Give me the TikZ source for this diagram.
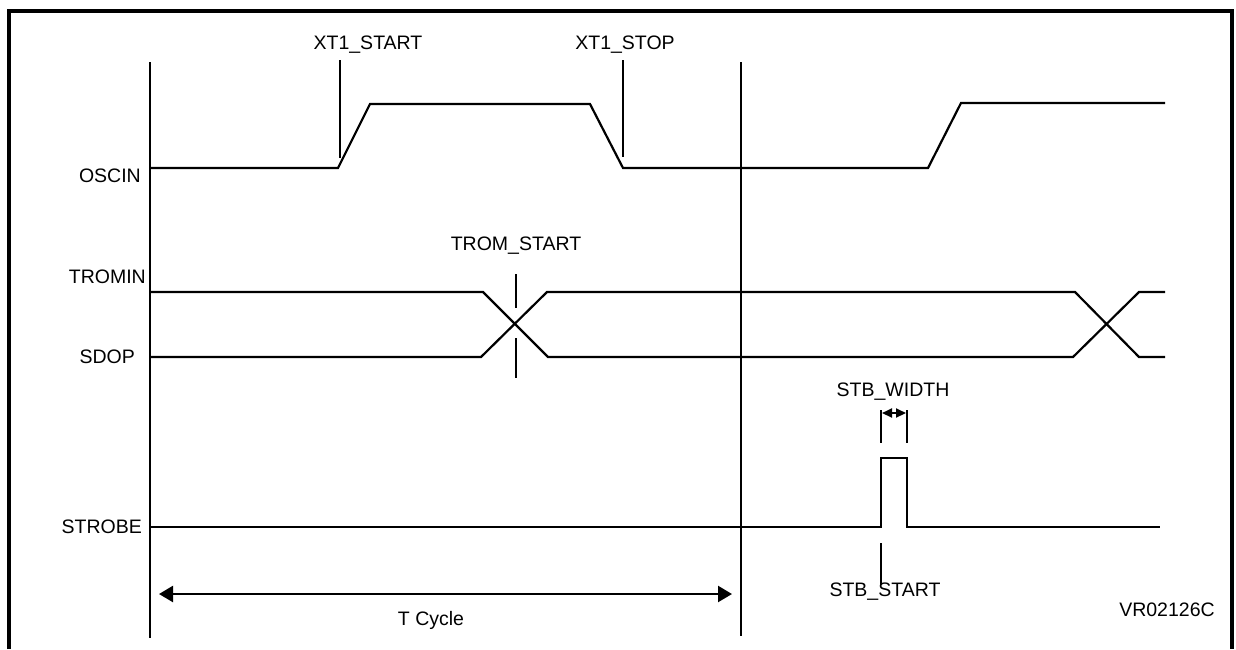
\documentclass[tikz,border=0pt]{standalone}
\usepackage{fontspec}
\setmainfont{Liberation Sans}
\usetikzlibrary{arrows.meta}
\begin{document}
\begin{tikzpicture}[x=1pt,y=-1pt,
  sig/.style={line width=2.2pt,line join=miter},
  refline/.style={line width=2pt},
  tick/.style={line width=2pt},
  lbl/.style={inner sep=0pt,font=\fontsize{19.5}{23}\selectfont},
  sname/.style={lbl,anchor=east}]
\useasboundingbox (0,0) rectangle (1236,649);
\fill[white] (0,0) rectangle (1236,649);
% frame
\draw[line width=3.5pt] (9,649) -- (9,11) -- (1232,11) -- (1232,649);
% reference verticals
\draw[refline] (150,62) -- (150,638);
\draw[refline] (741,62) -- (741,636);
% signal names
\node[sname] (oscin) at (141,176) {OSCIN};
\node[sname] (tromin) at (146,277) {TROMIN};
\node[sname] (sdop) at (135,357) {SDOP};
\node[sname] (strobe) at (142,527) {STROBE};
% OSCIN waveform
\draw[sig] (150,168) -- (338,168) -- (370,104) -- (590,104) -- (623,168) -- (928,168) -- (961,103) -- (1165,103);
% XT1 markers
\node[lbl] (xt1start) at (368,45) {XT1\_START};
\node[lbl] (xt1stop) at (625,45) {XT1\_STOP};
\draw[tick] (340,60) -- (340,158);
\draw[tick] (623,60) -- (623,157);
% TROMIN / SDOP
\draw[sig] (150,292) -- (483,292) -- (548,357) -- (1073,357) -- (1139,292) -- (1165,292);
\draw[sig] (150,357) -- (481,357) -- (547,292) -- (1075,292) -- (1139,357) -- (1165,357);
\node[lbl] (tromstart) at (516,246) {TROM\_START};
\draw[tick] (516,274) -- (516,308);
\draw[tick] (516,338) -- (516,378);
% STROBE
\draw[sig] (150,527) -- (881,527) -- (881,458) -- (907,458) -- (907,527) -- (1160,527);
\node[lbl] (stbwidth) at (893,392) {STB\_WIDTH};
\draw[tick] (881,410) -- (881,443);
\draw[tick] (907,410) -- (907,443);
\draw[line width=2pt,{Triangle[length=10pt,width=9pt]}-{Triangle[length=10pt,width=9pt]}] (882,413) -- (906,413);
\draw[tick] (881,543) -- (881,585);
\node[lbl] (stbstart) at (885,592) {STB\_START};
% T cycle
\draw[line width=2.3pt,{Triangle[length=14pt,width=16pt]}-{Triangle[length=14pt,width=16pt]}] (159,594) -- (732,594);
\node[lbl] (tcycle) at (431,620) {T Cycle};
\node[lbl] (vr) at (1167,610) {VR02126C};
\end{tikzpicture}
\end{document}
